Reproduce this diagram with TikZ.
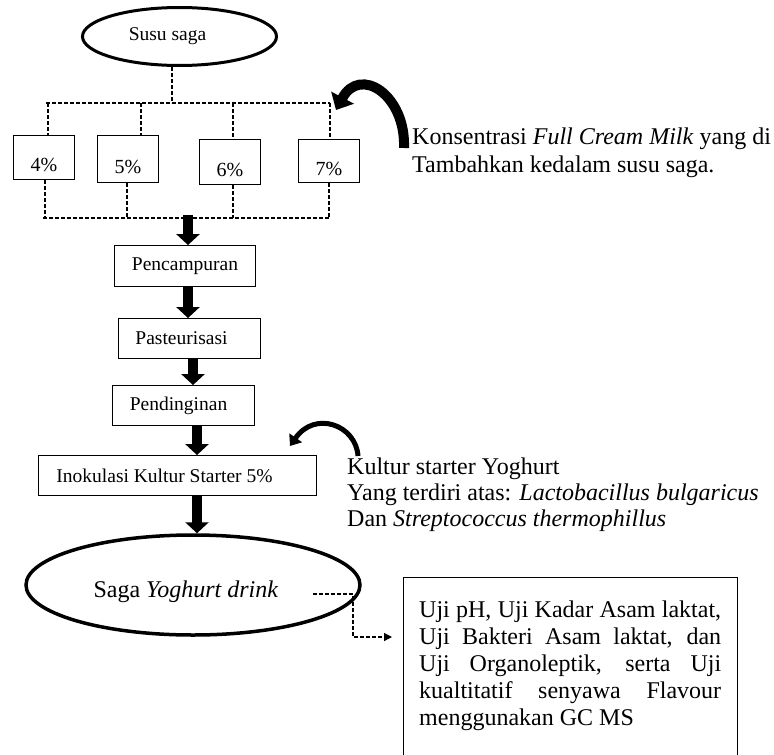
\documentclass[tikz,border=0pt]{standalone}
\usepackage{fontspec}
\setmainfont{Liberation Serif}
\usetikzlibrary{shapes.geometric,arrows.meta,calc}
\begin{document}
\begin{tikzpicture}[x=1pt,y=-1pt,
  box/.style={draw, line width=0.9pt, inner sep=0pt, font=\fontsize{19.5}{22}\selectfont},
  pbox/.style={draw, line width=0.9pt, inner sep=0pt, minimum width=61pt, minimum height=44pt,
               text height=28pt, text depth=-6pt, font=\fontsize{20}{22}\selectfont},
  oval/.style={draw, ellipse, inner sep=0pt},
  dline/.style={line width=1.2pt, dash pattern=on 4pt off 2pt},
  bigarrow/.style={line width=10pt, -{Triangle[width=23pt,length=11pt]}},
  curvearrow/.style={line width=10pt, -{Triangle[width=25pt,length=14pt]}},
  smallcurve/.style={line width=5pt, -{Triangle[width=15pt,length=10pt]}},
  note/.style={inner sep=0pt, align=left},
]
\useasboundingbox (0,0) rectangle (774,755);
\clip (0,0) rectangle (774,755);

% top ellipse
\node[oval, line width=3pt, minimum width=194pt, minimum height=58pt,
      font=\fontsize{19.5}{22}\selectfont] (susu) at (179.5,36.5) {Susu saga\hspace*{24pt}};

% percentage boxes
\node[pbox] (b4) at (44,157.5) {4\%};
\node[pbox, minimum height=47pt] (b5) at (128,159) {5\%};
\node[pbox, minimum height=45pt] (b6) at (230,162) {6\%};
\node[pbox, minimum height=43pt] (b7) at (329,161) {7\%};

% dashed tree
\coordinate (stem) at (172,103);
\coordinate (t4) at (48,103);
\coordinate (t5) at (141,103);
\coordinate (t6) at (233,103);
\coordinate (t7) at (330,103);
\coordinate (u4) at (45,218);
\coordinate (u5) at (127,218);
\coordinate (u6) at (233,218);
\coordinate (u7) at (329,218);
\draw[dline] (stem |- susu.south) -- (stem);
\draw[dline] ([xshift=-2pt]t4) -- (t7);
\draw[dline] (t4) -- (t4 |- b4.north);
\draw[dline] (t5) -- (t5 |- b5.north);
\draw[dline] (t6) -- (t6 |- b6.north);
\draw[dline] (t7) -- (t7 |- b7.north);
\draw[dline] (u4 |- b4.south) -- (u4);
\draw[dline] (u5 |- b5.south) -- (u5);
\draw[dline] (u6 |- b6.south) -- (u6);
\draw[dline] (u7 |- b7.south) -- (u7);
\draw[dline] ([xshift=-2pt]u4) -- (u7);

% process boxes
\node[box, minimum width=141pt, minimum height=41pt] (pencampuran) at (185,266) {Pencampuran};
\node[box, minimum width=142pt, minimum height=40pt] (pasteurisasi) at (189.5,338.5) {Pasteurisasi\hspace*{16pt}};
\node[box, minimum width=142pt, minimum height=40pt] (pendinginan) at (183.5,405.5) {Pendinginan\hspace*{10pt}};
\node[box, minimum width=278pt, minimum height=40pt] (inokulasi) at (177.5,475.5) {Inokulasi Kultur Starter 5\%\hspace*{26pt}};

% bottom ellipse
\node[oval, line width=3.5pt, minimum width=334pt, minimum height=100pt,
      text height=24pt, text depth=-5pt,
      font=\fontsize{24}{26}\selectfont] (saga) at (193,585) {Saga \textit{Yoghurt drink}\hspace*{14pt}};

% big arrows
\coordinate (a1) at (188,215);
\coordinate (a2) at (188,0);
\coordinate (a3) at (193,0);
\coordinate (a4) at (197,0);
\draw[bigarrow] (a1) -- (a1 |- pencampuran.north);
\draw[bigarrow] (a2 |- pencampuran.south) -- (a2 |- pasteurisasi.north);
\draw[bigarrow] (a3 |- pasteurisasi.south) -- (a3 |- pendinginan.north);
\draw[bigarrow] (a4 |- pendinginan.south) -- (a4 |- inokulasi.north);
\draw[bigarrow] (a4 |- inokulasi.south) -- (a4 |- saga.north);

% side notes (base anchor = last line's baseline)
\node[note, anchor=base west, font=\fontsize{24}{28}\selectfont] (konsen) at (412,172)
  {Konsentrasi \textit{Full Cream Milk} yang di\\Tambahkan kedalam susu saga.};
\node[note, anchor=base west, font=\fontsize{24}{26}\selectfont] (kultur) at (347,526)
  {Kultur starter Yoghurt\\Yang terdiri atas: \textit{Lactobacillus bulgaricus}\\Dan \textit{Streptococcus thermophillus}};

% curved arrows
\coordinate (c1s) at (404,148);
\coordinate (c1e) at (336,110);
\draw[curvearrow] (c1s) .. controls (406,95) and (360,65) .. (c1e);
\coordinate (c2s) at (358,456);
\coordinate (c2e) at (290,446);
\draw[smallcurve] (c2s) .. controls (356,425) and (315,410) .. (c2e);

% test box
\node[draw, line width=0.9pt, anchor=north west, minimum width=334pt, minimum height=200pt, inner sep=0pt] (uji) at (403,577) {};
\node[inner sep=0pt, anchor=north west, text width=302pt, align=justify,
      font=\fontsize{24}{27}\selectfont] (ujitext) at (419,600.5)
  {\hyphenpenalty=10000 Uji pH, Uji Kadar Asam laktat,\linebreak Uji Bakteri Asam laktat, dan\linebreak Uji Organoleptik, serta Uji\linebreak kualtitatif senyawa Flavour\linebreak menggunakan GC MS};

% dashed connector to test box
\coordinate (sg) at (313,594);
\coordinate (sgb) at (353,594);
\coordinate (ujiin) at ($(uji.north west)+(-11,60)$);
\draw[dline, -{Triangle[width=8pt,length=8pt]}] (sg) -- (sgb) |- (ujiin);
\end{tikzpicture}
\end{document}
